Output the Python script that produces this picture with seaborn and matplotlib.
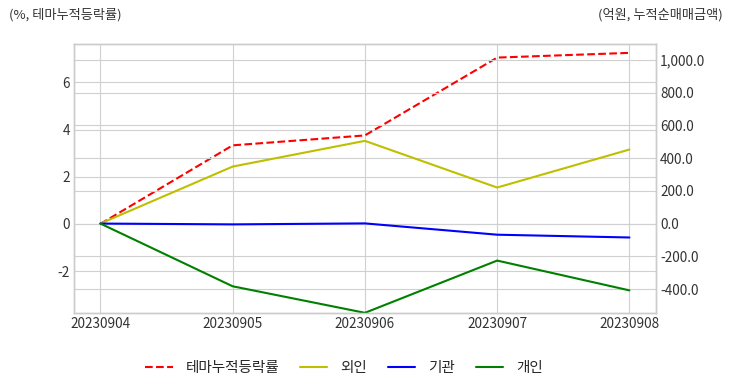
import matplotlib.pyplot as plt
import matplotlib.ticker as mticker
import seaborn as sns
import pandas as pd

dates = ['20230904', '20230905', '20230906', '20230907', '20230908']
theme_rate = [0.0, 3.33, 3.75, 7.05, 7.25]
foreign = [0.0, 348.0, 505.0, 220.0, 452.0]
institution = [0.0, -5.0, 1.0, -68.0, -85.0]
individual = [0.0, -383.0, -545.0, -226.0, -408.0]

if __name__ == '__main__':
    sns.set_style('whitegrid')
    plt.rcParams['font.family'] = ['Noto Sans CJK KR', 'DejaVu Sans']
    plt.rcParams['axes.unicode_minus'] = False

    fig = plt.figure(figsize=(7.32, 3.92), dpi=100)
    ax = fig.add_axes([0.101, 0.202, 0.795, 0.686])
    ax2 = ax.twinx()

    df = pd.DataFrame({'date': dates, 'theme': theme_rate})
    sns.lineplot(data=df, x='date', y='theme', ax=ax, color='r', linestyle='--',
                 linewidth=1.5, label='테마누적등락률', legend=False)

    flows = pd.DataFrame({'date': dates, '외인': foreign, '기관': institution, '개인': individual})
    for col, color in zip(['외인', '기관', '개인'], ['y', 'b', 'g']):
        sns.lineplot(data=flows, x='date', y=col, ax=ax2, color=color,
                     linewidth=1.5, label=col, legend=False)

    ax.set_xlim(-0.2, 4.2)
    ax.set_ylim(-3.77, 7.63)
    ax2.set_ylim(-545, 1097)
    ax.set_yticks([-2, 0, 2, 4, 6])
    ax2.set_yticks([-400, -200, 0, 200, 400, 600, 800, 1000])
    ax2.yaxis.set_major_formatter(mticker.FuncFormatter(lambda v, p: f'{v:,.1f}'))

    for a in (ax, ax2):
        a.set_xlabel('')
        a.set_ylabel('')
        a.tick_params(axis='both', labelsize=9.8, colors='#333333', length=0, pad=3)
        a.grid(True, color='#d0d0d0', linewidth=0.8)
        for s in a.spines.values():
            s.set_color('#cccccc')
            s.set_linewidth(1.0)
    ax2.grid(axis='x', visible=False)

    fig.text(0.012, 0.952, '(%, 테마누적등락률)', fontsize=9.5, color='#333333')
    fig.text(0.988, 0.952, '(억원, 누적순매매금액)', fontsize=9.5, color='#333333', ha='right')

    h1, l1 = ax.get_legend_handles_labels()
    h2, l2 = ax2.get_legend_handles_labels()
    fig.legend(h1 + h2, l1 + l2, loc='lower center', ncol=4, frameon=False,
               fontsize=10.5, bbox_to_anchor=(0.47, 0.01), columnspacing=1.4,
               handlelength=1.9, handletextpad=0.9)

    fig.savefig('out.png', dpi=100)
